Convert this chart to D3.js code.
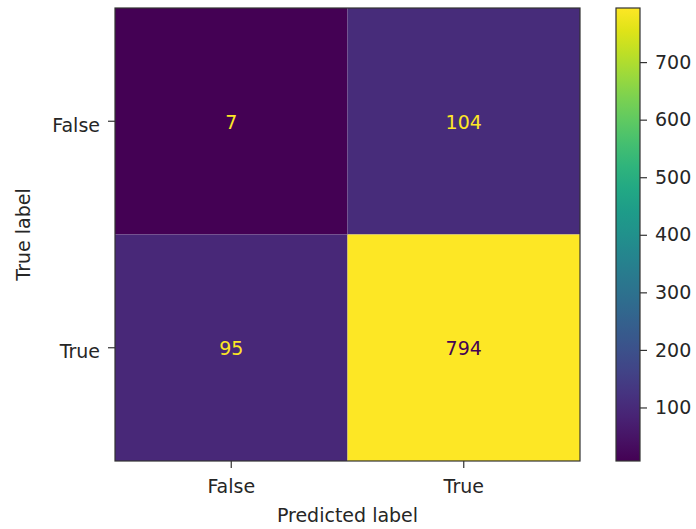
<!DOCTYPE html>
<html>
<head>
<meta charset="utf-8">
<script src="https://cdn.jsdelivr.net/npm/d3@7"></script>
<style>
  body { margin: 0; background: #fff; }
  text { font-family: "DejaVu Sans", sans-serif; fill: #262626; }
</style>
</head>
<body>
<svg id="chart" width="696" height="529"></svg>
<script>
const labels = ['False', 'True'];
const matrix = [
  [7, 104],
  [95, 794]
];
const cbTicks = [100, 200, 300, 400, 500, 600, 700];

const FS = '19px';
const svg = d3.select('#chart');
const plot = { left: 115, top: 8, right: 580, bottom: 461 };
const cb = { left: 616, right: 640 };

const flat = matrix.flat();
const vmin = d3.min(flat), vmax = d3.max(flat);
const color = d3.scaleSequential(d3.interpolateViridis).domain([vmin, vmax]);
const thresh = (vmin + vmax) / 2;

const x = d3.scaleBand().domain(labels).range([plot.left, plot.right]);
const y = d3.scaleBand().domain(labels).range([plot.top, plot.bottom]);

const cells = [];
matrix.forEach((row, i) => row.forEach((v, j) => cells.push({ t: labels[i], p: labels[j], v })));

svg.append('g').selectAll('rect')
  .data(cells).enter().append('rect')
  .attr('x', d => x(d.p))
  .attr('y', d => y(d.t))
  .attr('width', x.bandwidth())
  .attr('height', y.bandwidth())
  .attr('fill', d => color(d.v));

svg.append('g').selectAll('text')
  .data(cells).enter().append('text')
  .attr('x', d => x(d.p) + x.bandwidth() / 2)
  .attr('y', d => y(d.t) + y.bandwidth() / 2)
  .attr('text-anchor', 'middle')
  .attr('dy', '0.4em')
  .style('font-size', FS)
  .style('fill', d => d.v < thresh ? color(vmax) : color(vmin))
  .text(d => d.v);

svg.append('rect')
  .attr('x', plot.left).attr('y', plot.top)
  .attr('width', plot.right - plot.left).attr('height', plot.bottom - plot.top)
  .attr('fill', 'none').attr('stroke', '#333').attr('stroke-width', 1.2);

const xAxis = svg.append('g')
  .attr('transform', `translate(0,${plot.bottom})`)
  .call(d3.axisBottom(x).tickSize(7).tickPadding(12));
const yAxis = svg.append('g')
  .attr('transform', `translate(${plot.left},0)`)
  .call(d3.axisLeft(y).tickSize(7).tickPadding(8));
[xAxis, yAxis].forEach(a => {
  a.select('.domain').remove();
  a.selectAll('text').style('font-size', FS).style('font-family', '"DejaVu Sans", sans-serif').attr('fill', '#262626');
  a.selectAll('line').attr('stroke', '#333').attr('stroke-width', 1.2);
});
yAxis.selectAll('text').attr('dy', '0.55em');

svg.append('text')
  .attr('x', (plot.left + plot.right) / 2)
  .attr('y', 522)
  .attr('text-anchor', 'middle')
  .style('font-size', FS)
  .text('Predicted label');

svg.append('text')
  .attr('transform', `translate(30,${(plot.top + plot.bottom) / 2}) rotate(-90)`)
  .attr('text-anchor', 'middle')
  .style('font-size', FS)
  .text('True label');

// colorbar
const cy = d3.scaleLinear().domain([vmin, vmax]).range([plot.bottom, plot.top]);
const defs = svg.append('defs');
const grad = defs.append('linearGradient').attr('id', 'cbg')
  .attr('x1', 0).attr('y1', 1).attr('x2', 0).attr('y2', 0);
d3.range(0, 1.0001, 0.05).forEach(t => {
  grad.append('stop').attr('offset', t).attr('stop-color', d3.interpolateViridis(t));
});
svg.append('rect')
  .attr('x', cb.left).attr('y', plot.top)
  .attr('width', cb.right - cb.left).attr('height', plot.bottom - plot.top)
  .attr('fill', 'url(#cbg)')
  .attr('stroke', '#333').attr('stroke-width', 1.2);

const cbAxis = svg.append('g')
  .attr('transform', `translate(${cb.right},0)`)
  .call(d3.axisRight(cy).tickValues(cbTicks).tickSize(7).tickPadding(8));
cbAxis.select('.domain').remove();
cbAxis.selectAll('text').style('font-size', FS).style('font-family', '"DejaVu Sans", sans-serif').attr('fill', '#262626');
cbAxis.selectAll('line').attr('stroke', '#333').attr('stroke-width', 1.2);
</script>
</body>
</html>
